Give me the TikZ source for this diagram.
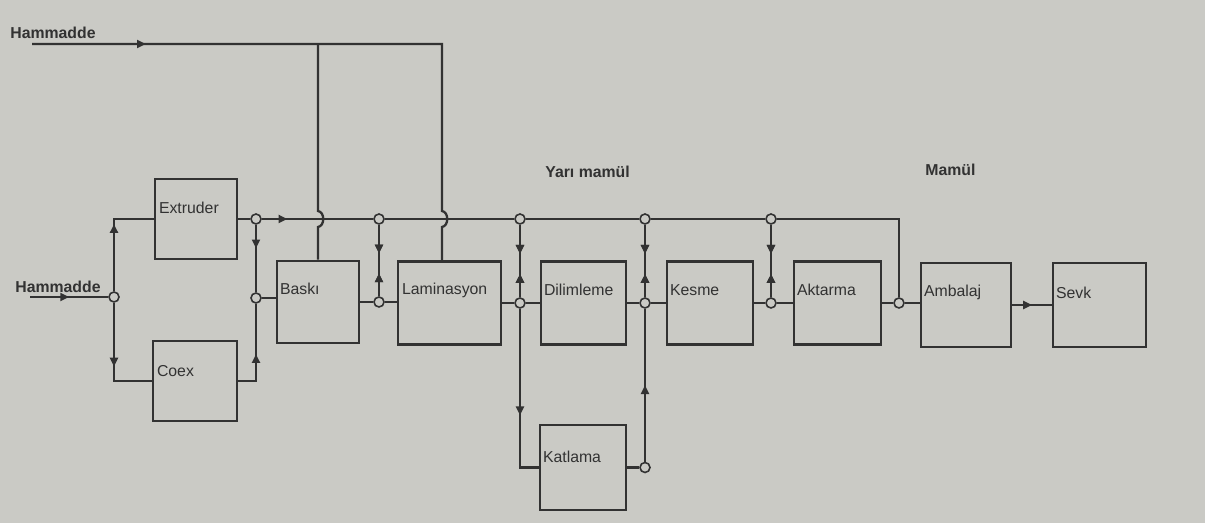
\documentclass[tikz,border=0pt]{standalone}
\usepackage{fontspec}
\setmainfont{Liberation Sans}
\usetikzlibrary{arrows.meta,decorations.markings,calc}
\definecolor{paper}{RGB}{202,202,197}
\definecolor{ink}{RGB}{50,50,50}
\tikzset{
  box/.style={draw=ink,line width=1.5pt,fill=paper,inner sep=0pt},
  lbl/.style={anchor=west,text=ink,font=\fontsize{9}{10}\selectfont,inner sep=0pt},
  head/.style={anchor=west,text=ink,font=\bfseries\fontsize{9}{10}\selectfont,inner sep=0pt},
  junc/.style={circle,draw=ink,line width=0.9pt,fill=paper,inner sep=0pt,minimum size=0.2cm},
  conn/.style={draw=ink,line width=1.3pt},
  arrowat/.style={postaction={decorate},decoration={markings,
     mark=at position #1 with {\arrow{Triangle[length=5pt,width=4.5pt]}}}},
  backat/.style={postaction={decorate},decoration={markings,
     mark=at position #1 with {\arrowreversed{Triangle[length=5pt,width=4.5pt]}}}},
}
\begin{document}
\begin{tikzpicture}[x=0.02cm,y=-0.02cm]
\fill[paper] (0,0) rectangle (1205,523);
\useasboundingbox (0,0) rectangle (1205,523);

% boxes
\node[box,minimum width=82*0.02cm,minimum height=80*0.02cm] (ext) at (196,219) {};
\node[box,minimum width=84*0.02cm,minimum height=80*0.02cm] (coex) at (195,381) {};
\node[box,minimum width=82*0.02cm,minimum height=82*0.02cm] (baski) at (318,302) {};
\node[box,minimum width=103*0.02cm,minimum height=83*0.02cm] (lam) at (449.5,303) {};
\node[box,minimum width=85*0.02cm,minimum height=83*0.02cm] (dil) at (583.5,303) {};
\node[box,minimum width=86*0.02cm,minimum height=83*0.02cm] (kes) at (710,303) {};
\node[box,minimum width=87*0.02cm,minimum height=83*0.02cm] (akt) at (837.5,303) {};
\node[box,minimum width=90*0.02cm,minimum height=84*0.02cm] (amb) at (966,305) {};
\node[box,minimum width=93*0.02cm,minimum height=84*0.02cm] (sevk) at (1099.5,305) {};
\node[box,minimum width=86*0.02cm,minimum height=85*0.02cm] (kat) at (583,467.5) {};

% box labels
\node[lbl] (lext) at ($(ext.north west)+(5,30)$) {Extruder};
\node[lbl] (lcoex) at ($(coex.north west)+(5,31)$) {Coex};
\node[lbl] (lbaski) at ($(baski.north west)+(4,29)$) {Baskı};
\node[lbl] (llam) at ($(lam.north west)+(5,30)$) {Laminasyon};
\node[lbl] (ldil) at ($(dil.north west)+(4,30)$) {Dilimleme};
\node[lbl] (lkes) at ($(kes.north west)+(4,30)$) {Kesme};
\node[lbl] (lakt) at ($(akt.north west)+(4,30)$) {Aktarma};
\node[lbl] (lamb) at ($(amb.north west)+(4,31)$) {Ambalaj};
\node[lbl] (lsevk) at ($(sevk.north west)+(4,31)$) {Sevk};
\node[lbl] (lkat) at ($(kat.north west)+(4,33)$) {Katlama};

% headings
\node[head] (htext) at (10,33) {Hammadde};
\node[head] (hltext) at (15,287) {Hammadde};
\node[head] (yari) at (545,172) {Yarı mamül};
\node[head] (mamul) at (925,170) {Mamül};

% junctions
\node[junc] (jin) at (114,297) {};
\node[junc] (j1) at (256,219) {};
\node[junc] (j2) at (379,219) {};
\node[junc] (j3) at (520,219) {};
\node[junc] (j4) at (645,219) {};
\node[junc] (j5) at (771,219) {};
\node[junc] (jb) at (256,298) {};
\node[junc] (j2b) at (379,302) {};
\node[junc] (j3b) at (520,303) {};
\node[junc] (j4b) at (645,303) {};
\node[junc] (j5b) at (771,303) {};
\node[junc] (j6) at (899,303) {};
\node[junc] (j7) at (645,467.5) {};

% free ends / corners
\coordinate (htop) at (32,44);
\coordinate (tc) at (442,44);
\coordinate (tb) at (318,44);
\coordinate (lamin) at (442,261.5);
\coordinate (hin) at (30,297);

% top raw material line with jumps over the bus
\draw[conn,arrowat=0.18] (htop) -- (tc) -- ++(0,167) .. controls +(7,1) and +(7,-1) .. ++(0,16) -- (lamin);
\draw[conn] (tb) -- ++(0,167) .. controls +(7,1) and +(7,-1) .. ++(0,16) -- (baski.north);

% left input
\draw[conn,arrowat=0.5] (hin) -- (jin);
\draw[conn,arrowat=0.6] (jin) |- (ext.west);
\draw[conn,arrowat=0.55] (jin) |- (coex.west);

% bus
\draw[conn] (ext.east) -- (j1);
\draw[conn,arrowat=0.23] (j1) -- (j2);
\draw[conn] (j2) -- (j3);
\draw[conn] (j3) -- (j4);
\draw[conn] (j4) -- (j5);
\draw[conn] (j5) -| (j6);

% extruder / coex to baski
\draw[conn,arrowat=0.35] (j1) -- (jb);
\draw[conn,arrowat=0.47] (coex.east) -| (jb);
\draw[conn] (jb) -- (baski.west |- jb);

% main line
\draw[conn] (baski.east) -- (j2b);
\draw[conn] (j2b) -- (j2b -| lam.west);
\draw[conn] (lam.east) -- (j3b);
\draw[conn] (j3b) -- (dil.west);
\draw[conn] (dil.east) -- (j4b);
\draw[conn] (j4b) -- (kes.west);
\draw[conn] (kes.east) -- (j5b);
\draw[conn] (j5b) -- (akt.west);
\draw[conn] (akt.east) -- (j6);
\draw[conn] (j6) -- (j6 -| amb.west);
\draw[conn,arrowat=0.5] (amb.east) -- (sevk.west);

% two-way verticals
\foreach \a/\b in {j2/j2b,j3/j3b,j4/j4b,j5/j5b}{
  \draw[conn,arrowat=0.4,backat=0.68] (\a) -- (\b);
}

% katlama branch
\draw[conn,arrowat=0.6] (j3b) |- (kat.west);
\draw[conn] (kat.east) -- (j7);
\draw[conn,arrowat=0.5] (j7) -- (j4b);
\end{tikzpicture}
\end{document}
